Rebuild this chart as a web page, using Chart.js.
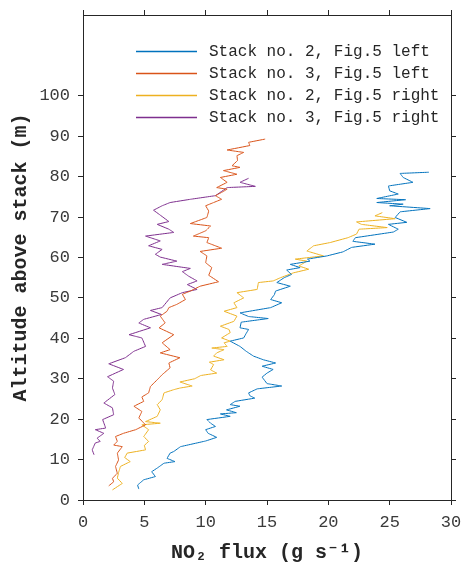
<!DOCTYPE html>
<html>
<head>
<meta charset="utf-8">
<script src="https://cdn.jsdelivr.net/npm/chart.js@4.4.0/dist/chart.umd.min.js"></script>
<style>
  html, body { margin: 0; padding: 0; background: #fff; }
</style>
</head>
<body>
<canvas id="fluxChart" width="462" height="566"></canvas>
<script>
const seriesLabels = [
    'Stack no. 2, Fig.5 left',
    'Stack no. 3, Fig.5 left',
    'Stack no. 2, Fig.5 right',
    'Stack no. 3, Fig.5 right'
];
const seriesColors = ['#0072BD', '#D95319', '#EDB120', '#7E2F8E'];

// Stack no. 2, Fig.5 left (altitude m, flux g/s)
const alt2L = [2.7, 3.7, 5.0, 5.8, 7.0, 7.9, 9.1, 9.5, 10.3, 11.6, 12.0, 13.2, 14.6, 15.5, 16.5, 17.4, 18.2, 19.0, 19.9, 20.7,
    21.3, 21.6, 22.3, 23.2, 23.6, 24.4, 25.2, 25.8, 26.5, 27.5, 28.2, 28.8, 29.6, 30.4, 31.4, 32.3, 33.1, 33.9, 34.7, 35.6,
    36.8, 38.0, 39.3, 40.1, 41.2, 42.2, 42.6, 44.0, 44.9, 45.4, 46.3, 47.6, 48.8, 49.6, 50.8, 51.7, 52.9, 53.8, 55.0, 55.8,
    56.9, 57.5, 58.3, 59.1, 59.6, 60.4, 61.4, 62.5, 63.3, 64.0, 64.9, 66.3, 67.0, 68.2, 68.7, 69.9, 71.3, 72.1, 72.8, 73.2,
    73.6, 74.3, 74.6, 75.7, 76.5, 77.7, 78.6, 79.8, 80.8, 81.1];
const flux2L = [4.55, 4.45, 4.95, 5.9, 5.6, 6.05, 6.6, 7.5, 6.85, 7.1, 7.4, 7.95, 10.0, 10.9, 10.2, 10.0, 10.8, 10.4, 10.1, 12.0,
    11.2, 12.5, 11.7, 12.8, 12.0, 12.4, 14.0, 13.6, 13.5, 14.2, 16.2, 15.0, 14.8, 14.6, 15.0, 15.5, 14.6, 15.7, 14.7, 13.9,
    13.3, 12.8, 12.0, 13.1, 13.3, 13.5, 12.8, 12.9, 15.1, 13.5, 12.8, 15.3, 16.2, 15.3, 15.6, 15.7, 16.9, 15.8, 16.4, 17.0,
    16.6, 17.7, 16.9, 18.5, 18.3, 19.9, 21.2, 21.9, 23.8, 22.0, 22.2, 25.3, 25.7, 24.9, 26.4, 25.45, 25.85, 28.3, 25.0, 26.1,
    23.95, 26.3, 23.95, 25.7, 25.0, 24.9, 26.9, 26.1, 25.85, 28.2];

// Stack no. 3, Fig.5 left
const alt3L = [3.5, 4.5, 5.4, 6.6, 8.3, 9.9, 11.6, 13.2, 13.6, 14.5, 15.7, 16.5, 17.4, 18.6, 20.3, 21.9, 23.2, 24.4, 25.5, 26.5,
    28.1, 30.2, 31.0, 32.7, 33.9, 35.2, 36.4, 37.2, 38.9, 40.9, 42.6, 43.8, 45.5, 46.7, 47.6, 48.4, 49.6, 50.9, 51.7, 52.9,
    54.0, 55.6, 57.5, 58.7, 60.4, 61.5, 62.3, 63.7, 64.9, 65.3, 66.6, 67.8, 68.4, 69.9, 71.5, 72.8, 73.6, 74.4, 75.3, 76.1,
    76.9, 77.3, 78.6, 79.8, 80.6, 81.5, 82.3, 82.7, 84.0, 85.2, 86.0, 86.6, 87.7, 88.5, 89.3];
const flux3L = [2.1, 2.5, 2.4, 2.8, 2.65, 2.9, 2.8, 3.2, 2.5, 2.8, 2.65, 3.3, 4.3, 5.1, 4.55, 4.8, 4.15, 4.95, 4.8, 5.35,
    5.5, 6.2, 6.45, 7.1, 7.0, 7.9, 6.3, 7.1, 6.45, 7.4, 6.2, 6.7, 6.3, 6.85, 7.0, 7.65, 8.35, 8.1, 8.75, 9.55,
    11.05, 10.25, 10.5, 10.0, 10.1, 9.55, 11.3, 10.1, 10.25, 9.0, 10.0, 10.4, 8.75, 10.1, 10.25, 10.0, 10.65, 11.3, 10.8, 11.3,
    11.75, 10.9, 11.75, 11.2, 12.55, 11.45, 12.8, 12.15, 12.6, 12.55, 13.1, 11.75, 13.6, 13.5, 14.85];

// Stack no. 2, Fig.5 right
const alt2R = [2.5, 4.1, 5.4, 6.8, 8.3, 9.5, 10.5, 11.6, 12.4, 13.5, 14.5, 15.7, 17.4, 18.6, 19.0, 19.4, 20.7, 22.3, 23.6, 24.8,
    26.5, 27.3, 27.7, 28.2, 29.2, 30.0, 30.8, 31.4, 32.2, 33.5, 34.1, 34.7, 35.6, 36.4, 37.2, 37.6, 38.0, 38.9, 39.3, 40.1,
    41.4, 42.2, 43.0, 44.2, 45.5, 46.7, 47.6, 48.8, 50.0, 51.3, 52.1, 53.8, 54.2, 55.0, 56.2, 57.1, 57.9, 59.1, 59.6, 60.4,
    61.6, 62.9, 63.7, 64.9, 65.8, 67.0, 67.4, 68.2, 68.8, 69.6, 70.3, 71.1];
const flux2R = [2.4, 3.2, 2.8, 2.9, 3.05, 3.85, 3.4, 3.6, 5.1, 5.0, 5.35, 4.95, 5.35, 4.8, 6.3, 5.1, 6.05, 6.3, 6.05, 6.45,
    6.6, 7.4, 7.9, 8.9, 7.9, 9.1, 9.6, 10.9, 10.4, 10.65, 10.3, 11.5, 10.65, 10.9, 11.5, 10.5, 11.75, 11.5, 12.0, 11.3,
    12.0, 11.9, 11.2, 12.3, 12.55, 11.5, 12.55, 12.3, 13.1, 12.55, 14.2, 14.3, 15.5, 16.1, 17.15, 18.4, 17.6, 18.25, 17.3, 19.6,
    18.25, 18.8, 20.15, 21.6, 22.3, 22.5, 24.8, 22.7, 22.3, 25.45, 23.8, 24.4];

// Stack no. 3, Fig.5 right
const alt3R = [11.2, 12.4, 14.1, 14.5, 15.3, 16.5, 17.4, 17.8, 19.9, 21.1, 22.8, 24.0, 26.1, 27.7, 29.4, 30.5, 32.3, 33.7, 35.2, 36.8,
    38.0, 40.1, 40.9, 42.6, 43.8, 44.7, 45.9, 46.9, 47.6, 50.0, 51.3, 52.1, 53.3, 54.2, 55.4, 56.5, 57.3, 58.3, 59.1, 60.1,
    60.8, 62.0, 62.9, 64.1, 65.3, 66.2, 67.0, 68.2, 68.9, 70.7, 71.7, 72.8, 73.6, 74.4, 75.3, 77.3, 77.6, 78.6, 79.6];
const flux3R = [0.9, 0.75, 1.0, 1.4, 1.15, 1.7, 1.0, 1.85, 1.6, 2.5, 2.4, 1.7, 2.6, 2.4, 2.5, 2.0, 3.3, 2.1, 3.45, 4.15,
    5.1, 4.8, 3.75, 5.5, 4.55, 4.95, 6.4, 5.5, 6.45, 7.1, 8.1, 9.3, 8.5, 9.3, 8.6, 8.1, 8.75, 6.45, 7.65, 6.3,
    5.9, 6.45, 5.35, 6.3, 5.1, 7.4, 7.0, 6.05, 7.0, 6.2, 5.75, 6.45, 7.1, 8.75, 10.8, 11.75, 14.05, 12.8, 13.5];

const xTicksMax = 30;
const yAxisMax = 120;
const yLabelMax = 100;

const altitudes = [alt2L, alt3L, alt2R, alt3R];
const fluxes = [flux2L, flux3L, flux2R, flux3R];

const axisColor = '#262626';
const monoFont = "'Liberation Mono', 'DejaVu Sans Mono', monospace";

function profilePoints(alt, flux) {
    return alt.map((a, i) => ({ x: flux[i], y: a }));
}

// legend drawn inside the plot box, like the original figure
const insideLegend = {
    id: 'insideLegend',
    afterDatasetsDraw(chart) {
        const { ctx, chartArea } = chart;
        ctx.save();
        ctx.setLineDash([]);
        ctx.globalAlpha = 1;
        ctx.font = '16px ' + monoFont;
        ctx.textBaseline = 'middle';
        chart.data.datasets.forEach((ds, i) => {
            const y = chartArea.top + 36.5 + i * 22;
            ctx.strokeStyle = seriesColors[i];
            ctx.lineWidth = 1.3;
            ctx.beginPath();
            ctx.moveTo(chartArea.left + 53, y);
            ctx.lineTo(chartArea.left + 114, y);
            ctx.stroke();
            ctx.fillStyle = axisColor;
            ctx.fillText(ds.label, chartArea.left + 126, y);
        });
        ctx.restore();
    }
};

const noPad = s => { s.paddingLeft = 0; s.paddingRight = 0; s.paddingTop = 0; s.paddingBottom = 0; };

function boxAxis(position, extra) {
    return Object.assign({
        type: 'linear',
        position: position,
        grid: { display: true, drawOnChartArea: false, drawTicks: true, tickLength: 5, color: axisColor },
        border: { display: true, color: axisColor, width: 1 },
        ticks: {
            color: '#3a3a3a',
            font: { family: monoFont, size: 17 }
        }
    }, extra);
}

const limitY = axis => { axis.ticks = axis.ticks.filter(t => t.value <= yLabelMax); };

const config = {
    type: 'line',
    data: {
        datasets: seriesLabels.map((label, i) => ({
            label: label,
            data: profilePoints(altitudes[i], fluxes[i]),
            borderColor: seriesColors[i],
            backgroundColor: seriesColors[i],
            borderWidth: 1,
            pointRadius: 0,
            tension: 0.001,
            fill: false
        }))
    },
    options: {
        responsive: false,
        devicePixelRatio: 1,
        animation: false,
        layout: { padding: 0 },
        plugins: {
            legend: { display: false },
            tooltip: { enabled: false }
        },
        scales: {
            x: boxAxis('bottom', {
                min: 0, max: xTicksMax,
                ticks: { stepSize: 5, padding: 7, color: '#3a3a3a', font: { family: monoFont, size: 17 } },
                title: {
                    display: true,
                    text: 'NO\u2082 flux (g s\u207B\u00B9)',
                    color: axisColor,
                    font: { family: monoFont, size: 20, weight: 'bold', lineHeight: 1 },
                    padding: { top: 0, bottom: 3 }
                },
                afterFit: s => { s.height = 66; noPad(s); }
            }),
            x2: boxAxis('top', {
                min: 0, max: xTicksMax,
                ticks: { stepSize: 5, display: false },
                afterFit: s => { s.height = 15; noPad(s); }
            }),
            y: boxAxis('left', {
                min: 0, max: yAxisMax,
                ticks: { stepSize: 10, padding: 8, color: '#3a3a3a', font: { family: monoFont, size: 17 } },
                afterBuildTicks: limitY,
                title: {
                    display: true,
                    text: 'Altitude above stack (m)',
                    color: axisColor,
                    font: { family: monoFont, size: 20, weight: 'bold', lineHeight: 1 },
                    padding: { top: 11, bottom: 0 }
                },
                afterFit: s => { s.width = 83; noPad(s); }
            }),
            y2: boxAxis('right', {
                min: 0, max: yAxisMax,
                ticks: { stepSize: 10, display: false },
                afterBuildTicks: limitY,
                afterFit: s => { s.width = 11; noPad(s); }
            })
        }
    },
    plugins: [insideLegend]
};

new Chart(document.getElementById('fluxChart').getContext('2d'), config);
</script>
</body>
</html>
